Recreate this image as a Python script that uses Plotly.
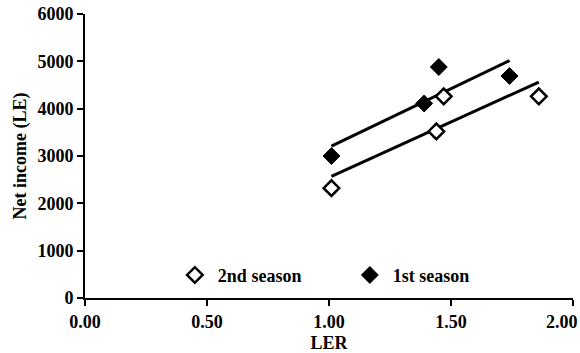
import numpy as np
import plotly.graph_objects as go

# Data
ler_1st = [1.01, 1.39, 1.45, 1.74]
income_1st = [3000, 4110, 4880, 4690]
ler_2nd = [1.01, 1.44, 1.47, 1.86]
income_2nd = [2320, 3520, 4260, 4260]
x_ticks = [0.0, 0.5, 1.0, 1.5, 2.0]
x_tick_labels = ["0.00", "0.50", "1.00", "1.50", "2.00"]
y_ticks = [0, 1000, 2000, 3000, 4000, 5000, 6000]

FONT = "Liberation Serif"
FS = 18


def fit_line(x, y):
    slope, intercept = np.polyfit(x, y, 1)
    xs = np.array([min(x), max(x)])
    return xs, slope * xs + intercept


fig = go.Figure()

x2, y2 = fit_line(ler_2nd, income_2nd)
x1, y1 = fit_line(ler_1st, income_1st)
fig.add_trace(go.Scatter(x=x2, y=y2, mode="lines", line=dict(color="black", width=3),
                         showlegend=False, hoverinfo="skip"))
fig.add_trace(go.Scatter(x=x1, y=y1, mode="lines", line=dict(color="black", width=3),
                         showlegend=False, hoverinfo="skip"))

fig.add_trace(go.Scatter(x=ler_2nd, y=income_2nd, mode="markers", name="2nd season",
                         marker=dict(symbol="diamond", size=12, color="white",
                                     line=dict(color="black", width=2.5))))
fig.add_trace(go.Scatter(x=ler_1st, y=income_1st, mode="markers", name="1st season",
                         marker=dict(symbol="diamond", size=13, color="black",
                                     line=dict(color="black", width=1))))

# keep the last x label inside the page, as in the reference (transparent padding)
pad = "<span style='color:rgba(0,0,0,0)'>00.</span>"
shown_x_labels = x_tick_labels[:-1] + [x_tick_labels[-1] + pad]

tickfont = dict(family=FONT, size=FS, color="black", weight="bold")
fig.update_layout(
    width=580, height=353,
    margin=dict(l=85, r=7, t=14, b=55),
    paper_bgcolor="white", plot_bgcolor="white",
    font=dict(family=FONT, size=FS, color="black"),
    legend=dict(orientation="h", x=0.178, y=0.08, xanchor="left", yanchor="middle",
                bgcolor="rgba(0,0,0,0)",
                font=dict(family=FONT, size=FS, color="black", weight="bold"),
                itemwidth=36, entrywidth=124),
    xaxis=dict(range=[0, 2], tickvals=x_ticks, ticktext=shown_x_labels,
               automargin=False, ticklabeloverflow="allow",
               showgrid=False, zeroline=False, showline=True, linecolor="black", linewidth=2,
               ticks="outside", ticklen=6, tickwidth=2, tickcolor="black",
               tickfont=tickfont,
               title=dict(text="<b>LER</b>", font=dict(family=FONT, size=FS), standoff=8)),
    yaxis=dict(range=[0, 6000], tickvals=y_ticks, automargin=False,
               showgrid=False, zeroline=False, showline=True, linecolor="black", linewidth=2,
               ticks="outside", ticklen=6, tickwidth=2, tickcolor="black",
               tickfont=tickfont,
               title=dict(text="<b>Net income (LE)</b>", font=dict(family=FONT, size=FS),
                          standoff=6)),
)

fig.write_html("out.html", config={"displayModeBar": False},
               post_script="document.body.style.margin='0';document.body.style.padding='0';")
